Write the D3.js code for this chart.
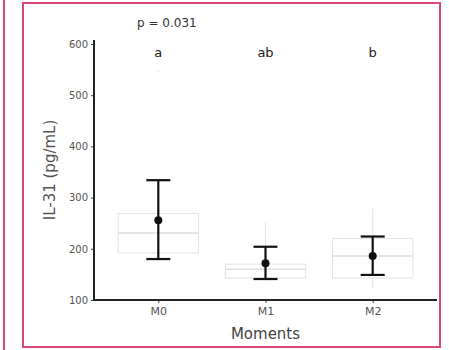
<!DOCTYPE html>
<html>
<head>
<meta charset="utf-8">
<script src="https://cdn.jsdelivr.net/npm/d3@7"></script>
<style>
  body { margin: 0; background: #fff; }
  svg { display: block; font-family: "DejaVu Sans", Arial, sans-serif; }
</style>
</head>
<body>
<div id="chart"></div>
<script>
// values
const categories = ['M0', 'M1', 'M2'];
const letters = ['a', 'ab', 'b'];
const yTicks = [100, 200, 300, 400, 500, 600];

// faint boxplots behind
const whiskerLow = [176, 138, 123];
const boxQ1 = [192, 143, 143];
const boxMedian = [231, 160, 186];
const boxQ3 = [269, 170, 220];
const whiskerHigh = [330, 253, 278];
const outliers = [[547], [], []];

// mean +- error
const means = [256, 172, 186];
const errLow = [180, 141, 149];
const errHigh = [334, 204, 224];

const pLabel = 'p = 0.031';

const W = 449, H = 350;
const FONT = '"DejaVu Sans", Arial, sans-serif';
const svg = d3.select('#chart').append('svg')
  .attr('width', W)
  .attr('height', H);

// frames
svg.append('line')
  .attr('x1', 4).attr('x2', 4).attr('y1', 0).attr('y2', H)
  .attr('stroke', '#d9467a').attr('stroke-width', 2);
svg.append('rect')
  .attr('x', 23).attr('y', 3).attr('width', 417).attr('height', 344)
  .attr('fill', 'none').attr('stroke', '#d9467a').attr('stroke-width', 2);

const x = d3.scalePoint()
  .domain(categories)
  .range([94, 437])
  .padding(0.6);

const y = d3.scaleLinear()
  .domain([100, 600])
  .range([300, 44]);

const step = x.step();
const boxW = step * 0.75;
const capW = 24;

const rows = categories.map((c, i) => ({
  c, i,
  lo: whiskerLow[i], q1: boxQ1[i], med: boxMedian[i], q3: boxQ3[i], hi: whiskerHigh[i],
  out: outliers[i], mean: means[i], eLo: errLow[i], eHi: errHigh[i]
}));

// boxplots
const box = svg.append('g').selectAll('g').data(rows).enter().append('g');
box.append('line')
  .attr('x1', d => x(d.c)).attr('x2', d => x(d.c))
  .attr('y1', d => y(d.lo)).attr('y2', d => y(d.q1))
  .attr('stroke', '#e3e3e3');
box.append('line')
  .attr('x1', d => x(d.c)).attr('x2', d => x(d.c))
  .attr('y1', d => y(d.q3)).attr('y2', d => y(d.hi))
  .attr('stroke', '#e3e3e3');
box.append('rect')
  .attr('x', d => x(d.c) - boxW / 2)
  .attr('width', boxW)
  .attr('y', d => y(d.q3))
  .attr('height', d => y(d.q1) - y(d.q3))
  .attr('fill', '#fff')
  .attr('stroke', '#e3e3e3');
box.append('line')
  .attr('x1', d => x(d.c) - boxW / 2).attr('x2', d => x(d.c) + boxW / 2)
  .attr('y1', d => y(d.med)).attr('y2', d => y(d.med))
  .attr('stroke', '#dedede').attr('stroke-width', 1.5);
box.selectAll('circle').data(d => d.out.map(v => ({ c: d.c, v }))).enter()
  .append('circle')
  .attr('cx', d => x(d.c)).attr('cy', d => y(d.v))
  .attr('r', 1).attr('fill', '#e6e6e6');

// error bars
const eb = svg.append('g').selectAll('g').data(rows).enter().append('g')
  .attr('stroke', '#111').attr('stroke-width', 2.2);
eb.append('line')
  .attr('x1', d => x(d.c)).attr('x2', d => x(d.c))
  .attr('y1', d => y(d.eLo)).attr('y2', d => y(d.eHi));
eb.append('line')
  .attr('x1', d => x(d.c) - capW / 2).attr('x2', d => x(d.c) + capW / 2)
  .attr('y1', d => y(d.eHi)).attr('y2', d => y(d.eHi));
eb.append('line')
  .attr('x1', d => x(d.c) - capW / 2).attr('x2', d => x(d.c) + capW / 2)
  .attr('y1', d => y(d.eLo)).attr('y2', d => y(d.eLo));
svg.append('g').selectAll('circle').data(rows).enter().append('circle')
  .attr('cx', d => x(d.c)).attr('cy', d => y(d.mean))
  .attr('r', 4).attr('fill', '#111');

// axes
const yAxis = svg.append('g')
  .attr('transform', 'translate(94,0)')
  .call(d3.axisLeft(y).tickValues(yTicks).tickSize(3).tickPadding(3));
yAxis.select('.domain').remove();
yAxis.append('line')
  .attr('x1', 0).attr('x2', 0).attr('y1', 40).attr('y2', 301)
  .attr('stroke', '#222').attr('stroke-width', 2);
yAxis.selectAll('.tick line').attr('stroke', '#444');
yAxis.selectAll('.tick text')
  .attr('fill', '#555').attr('font-size', 10)
  .style('font-family', FONT);

const xAxis = svg.append('g')
  .attr('transform', 'translate(0,300)')
  .call(d3.axisBottom(x).tickSize(3).tickPadding(4));
xAxis.select('.domain').remove();
xAxis.append('line')
  .attr('x1', 93).attr('x2', 437).attr('y1', 0).attr('y2', 0)
  .attr('stroke', '#222').attr('stroke-width', 2);
xAxis.selectAll('.tick line').attr('stroke', '#444');
xAxis.selectAll('.tick text')
  .attr('fill', '#555').attr('font-size', 11)
  .style('font-family', FONT);

// titles
svg.append('text')
  .attr('x', x('M1')).attr('y', 339)
  .attr('text-anchor', 'middle')
  .attr('font-size', 15).attr('fill', '#444')
  .text('Moments');
svg.append('text')
  .attr('transform', 'translate(55,170) rotate(-90)')
  .attr('text-anchor', 'middle')
  .attr('font-size', 15).attr('fill', '#555')
  .text('IL-31 (pg/mL)');

svg.append('text')
  .attr('x', 137).attr('y', 27)
  .attr('font-size', 12).attr('fill', '#333')
  .text(pLabel);

svg.append('g').selectAll('text').data(categories).enter().append('text')
  .attr('x', d => x(d)).attr('y', 57)
  .attr('text-anchor', 'middle')
  .attr('font-size', 13).attr('fill', '#222')
  .text((d, i) => letters[i]);
</script>
</body>
</html>
